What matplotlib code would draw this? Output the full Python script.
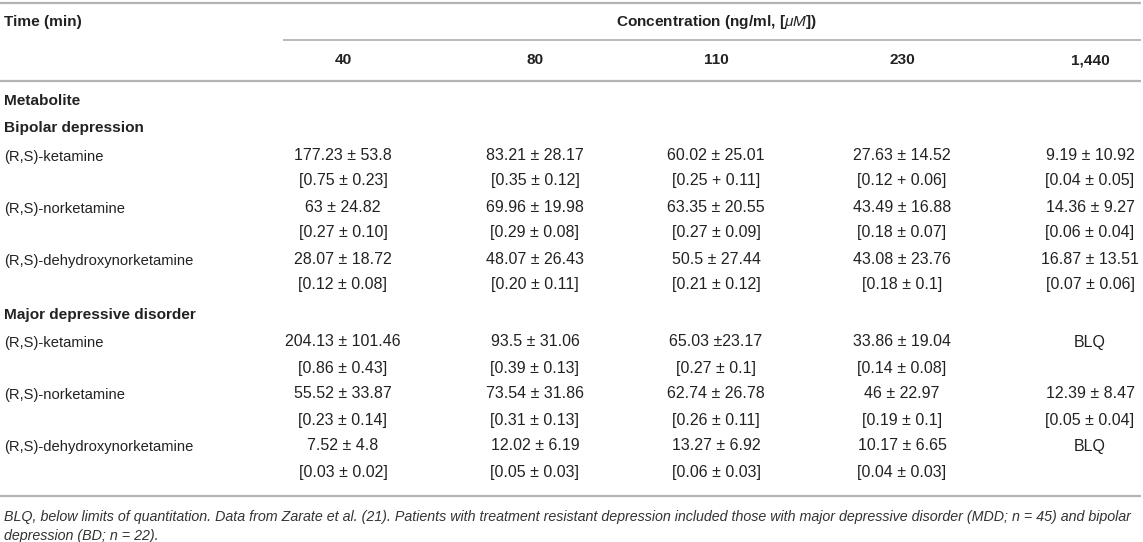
import matplotlib.pyplot as plt

plt.rcParams["font.family"] = ["Liberation Sans", "DejaVu Sans"]
plt.rcParams["mathtext.fontset"] = "custom"
plt.rcParams["mathtext.rm"] = "Liberation Sans"
plt.rcParams["mathtext.it"] = "Liberation Sans:italic"
plt.rcParams["mathtext.bf"] = "Liberation Sans:bold"

# Table content
time_points = ["40", "80", "110", "230", "1,440"]
metabolites = ["(R,S)-ketamine", "(R,S)-norketamine", "(R,S)-dehydroxynorketamine"]

bd_ngml = [
    ["177.23 ± 53.8", "83.21 ± 28.17", "60.02 ± 25.01", "27.63 ± 14.52", "9.19 ± 10.92"],
    ["63 ± 24.82", "69.96 ± 19.98", "63.35 ± 20.55", "43.49 ± 16.88", "14.36 ± 9.27"],
    ["28.07 ± 18.72", "48.07 ± 26.43", "50.5 ± 27.44", "43.08 ± 23.76", "16.87 ± 13.51"],
]
bd_um = [
    ["[0.75 ± 0.23]", "[0.35 ± 0.12]", "[0.25 + 0.11]", "[0.12 + 0.06]", "[0.04 ± 0.05]"],
    ["[0.27 ± 0.10]", "[0.29 ± 0.08]", "[0.27 ± 0.09]", "[0.18 ± 0.07]", "[0.06 ± 0.04]"],
    ["[0.12 ± 0.08]", "[0.20 ± 0.11]", "[0.21 ± 0.12]", "[0.18 ± 0.1]", "[0.07 ± 0.06]"],
]
mdd_ngml = [
    ["204.13 ± 101.46", "93.5 ± 31.06", "65.03 ±23.17", "33.86 ± 19.04", "BLQ"],
    ["55.52 ± 33.87", "73.54 ± 31.86", "62.74 ± 26.78", "46 ± 22.97", "12.39 ± 8.47"],
    ["7.52 ± 4.8", "12.02 ± 6.19", "13.27 ± 6.92", "10.17 ± 6.65", "BLQ"],
]
mdd_um = [
    ["[0.86 ± 0.43]", "[0.39 ± 0.13]", "[0.27 ± 0.1]", "[0.14 ± 0.08]", ""],
    ["[0.23 ± 0.14]", "[0.31 ± 0.13]", "[0.26 ± 0.11]", "[0.19 ± 0.1]", "[0.05 ± 0.04]"],
    ["[0.03 ± 0.02]", "[0.05 ± 0.03]", "[0.06 ± 0.03]", "[0.04 ± 0.03]", ""],
]
groups = [("Bipolar depression", bd_ngml, bd_um),
          ("Major depressive disorder", mdd_ngml, mdd_um)]

footnote_lines = [
    "BLQ, below limits of quantitation. Data from Zarate et al. (21). Patients with "
    "treatment resistant depression included those with major depressive disorder "
    "(MDD; n = 45) and bipolar",
    "depression (BD; n = 22).",
]

# Layout (pixel space)
W, H = 1143, 542
col_x = [343, 535, 716, 902, 1090]
left = 4
text_col = "#222222"
rule_col = "#b4b4b4"
fs_bold = 11.1
fs_name = 10.6
fs_num = 11.5
fs_note = 10.3

fig = plt.figure(figsize=(W / 100, H / 100), dpi=100)
ax = fig.add_axes([0, 0, 1, 1])
ax.set_xlim(0, W)
ax.set_ylim(H, 0)
ax.axis("off")


def rule(y, x0=0, x1=W - 2, lw=1.6):
    ax.plot([x0, x1], [y, y], color=rule_col, linewidth=lw, solid_capstyle="butt")


rule(2.5)
rule(40, x0=283, lw=1.3)
rule(80.5)
rule(495.5)

ax.text(left, 22, "Time (min)", fontsize=fs_bold, fontweight="bold", color=text_col,
        ha="left", va="center")
ax.text(716, 22, r"Concentration (ng/ml, [$\mu M$])", fontsize=fs_bold, fontweight="bold",
        color=text_col, ha="center", va="center")
for x, t in zip(col_x, time_points):
    ax.text(x, 59, t, fontsize=fs_bold, fontweight="bold", color=text_col,
            ha="center", va="center_baseline")

ax.text(left, 101, "Metabolite", fontsize=fs_bold, fontweight="bold", color=text_col,
        ha="left", va="center")

group_y = [128, 315]
for gy, (gname, ngml, um) in zip(group_y, groups):
    ax.text(left, gy, gname, fontsize=fs_bold, fontweight="bold", color=text_col,
            ha="left", va="center")
    y = gy + 27
    for name, row_ng, row_um in zip(metabolites, ngml, um):
        ax.text(left, y + 1.5, name, fontsize=fs_name, color=text_col,
                ha="left", va="center")
        for x, s in zip(col_x, row_ng):
            ax.text(x, y, s, fontsize=fs_num, color=text_col, ha="center", va="center")
        for x, s in zip(col_x, row_um):
            ax.text(x, y + 26, s, fontsize=fs_num, color=text_col, ha="center", va="center")
        y += 52

for ly, line in zip([517, 536], footnote_lines):
    ax.text(left, ly, line, fontsize=fs_note, style="italic", color="#333333",
            ha="left", va="center")

fig.savefig("out.png", dpi=100, facecolor="white")
